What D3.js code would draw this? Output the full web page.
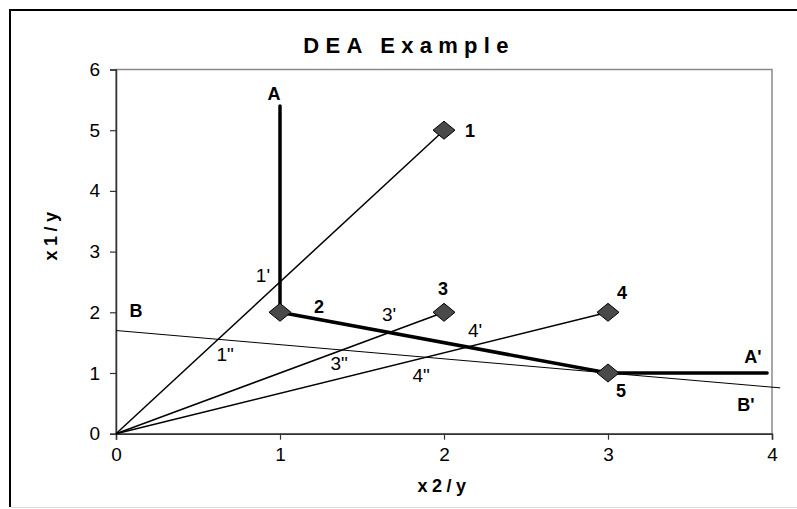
<!DOCTYPE html>
<html><head><meta charset="utf-8">
<script src="https://cdn.jsdelivr.net/npm/d3@7"></script>
<style>
body{margin:0;background:#fff;}
text{font-family:"Liberation Sans",Arial,Helvetica,sans-serif;}
</style></head>
<body><svg id="c" width="797" height="509"></svg>
<script>
// ---- data ----
const pointNames = ["1","2","3","4","5"];
const pointX = [2,1,2,3,3];
const pointY = [5,2,2,2,1];
const rayTargets = ["1","3","4"];          // rays from origin
const frontierX = [1,1,3,3.97];             // isoquant A - A'
const frontierY = [5.4,2,1,1];
const lineBX = [0,4.05];                    // isocost B - B'
const lineBY = [1.7,0.755];
const xTicks = [0,1,2,3,4];
const yTicks = [0,1,2,3,4,5,6];
const boldLabels = ["A","B","A'","B'","1","2","3","4","5"];
const boldLabelX = [0.963,0.122,3.884,3.841,2.159,1.238,1.994,3.085,3.079];
const boldLabelY = [5.49,1.93,1.17,0.38,4.895,1.994,2.291,2.225,0.61];
const plainLabels = ["1'","1\"","3'","3\"","4'","4\""];
const plainLabelX = [0.896,0.665,1.665,1.360,2.189,1.860];
const plainLabelY = [2.505,1.203,1.863,1.055,1.599,0.857];
const title = "DEA Example";
const xTitle = "x2/y", yTitle = "x1/y";

// ---- drawing ----
const svg = d3.select("#c");
const L=116, R=772, T=69.5, B=433.7;
const x = d3.scaleLinear().domain([0,4]).range([L,R]);
const y = d3.scaleLinear().domain([0,6]).range([B,T]);

// outer frame
svg.append("line").attr("x1",10).attr("x2",10).attr("y1",10).attr("y2",507).attr("stroke","#000").attr("stroke-width",2);
svg.append("line").attr("x1",9).attr("x2",797).attr("y1",10).attr("y2",10).attr("stroke","#000").attr("stroke-width",2);
svg.append("line").attr("x1",11).attr("x2",797).attr("y1",507.5).attr("y2",507.5).attr("stroke","#dcdcdc").attr("stroke-width",1);

// plot area border
svg.append("rect").attr("x",L).attr("y",T).attr("width",R-L).attr("height",B-T)
  .attr("fill","none").attr("stroke","#8a8a8a").attr("stroke-width",1.5);

// axes
const xAxis = d3.axisBottom(x).tickValues(xTicks).tickFormat(d3.format("d")).tickSize(6).tickPadding(8);
const yAxis = d3.axisLeft(y).tickValues(yTicks).tickFormat(d3.format("d")).tickSize(6).tickPadding(10);
const gx = svg.append("g").attr("transform",`translate(0,${B})`).call(xAxis);
const gy = svg.append("g").attr("transform",`translate(${L},0)`).call(yAxis);
[gx,gy].forEach(g=>{
  g.select(".domain").attr("stroke","#333").attr("stroke-width",1.5);
  g.selectAll(".tick line").attr("stroke","#333").attr("stroke-width",1.2);
  g.selectAll(".tick text").attr("font-size",19).attr("fill","#000")
   .style("font-family",'"Liberation Sans",Arial,sans-serif');
});

// rays from origin
const pmap = {}; pointNames.forEach((n,i)=>pmap[n]=[pointX[i],pointY[i]]);
svg.append("g").selectAll("line").data(rayTargets).join("line")
  .attr("x1",x(0)).attr("y1",y(0))
  .attr("x2",d=>x(pmap[d][0])).attr("y2",d=>y(pmap[d][1]))
  .attr("stroke","#000").attr("stroke-width",1.5);

// isocost line B
svg.append("line").attr("x1",x(lineBX[0])).attr("y1",y(lineBY[0]))
  .attr("x2",x(lineBX[1])).attr("y2",y(lineBY[1]))
  .attr("stroke","#000").attr("stroke-width",1);

// isoquant A
const fr = frontierX.map((v,i)=>[v,frontierY[i]]);
svg.append("path").datum(fr)
  .attr("d",d3.line().x(d=>x(d[0])).y(d=>y(d[1])))
  .attr("fill","none").attr("stroke","#000").attr("stroke-width",3.5).attr("stroke-linecap","round").attr("stroke-linejoin","round");

// markers
const hw=11, hh=9;
svg.append("g").selectAll("path").data(pointNames).join("path")
  .attr("transform",d=>`translate(${x(pmap[d][0])},${y(pmap[d][1])})`)
  .attr("d",`M0,${-hh}L${hw},0L0,${hh}L${-hw},0Z`)
  .attr("fill","#4a4a4a").attr("stroke","#000").attr("stroke-width",1);

// labels
svg.append("g").selectAll("text").data(boldLabels).join("text")
  .attr("x",(d,i)=>x(boldLabelX[i])).attr("y",(d,i)=>y(boldLabelY[i]))
  .attr("text-anchor","middle").attr("font-size",18).attr("font-weight","bold").text(d=>d);
svg.append("g").selectAll("text").data(plainLabels).join("text")
  .attr("x",(d,i)=>x(plainLabelX[i])).attr("y",(d,i)=>y(plainLabelY[i]))
  .attr("text-anchor","middle").attr("font-size",19).text(d=>d);

// titles
svg.append("text").attr("x",409).attr("y",53).attr("text-anchor","middle")
  .attr("font-size",22).attr("font-weight","bold").style("letter-spacing","6.3px").text(title);
svg.append("text").attr("x",444).attr("y",492).attr("text-anchor","middle")
  .attr("font-size",18).attr("font-weight","bold").style("letter-spacing","4.5px").text(xTitle);
svg.append("text").attr("transform","translate(57,234) rotate(-90)").attr("text-anchor","middle")
  .attr("font-size",18).attr("font-weight","bold").style("letter-spacing","4.5px").text(yTitle);
</script></body></html>
